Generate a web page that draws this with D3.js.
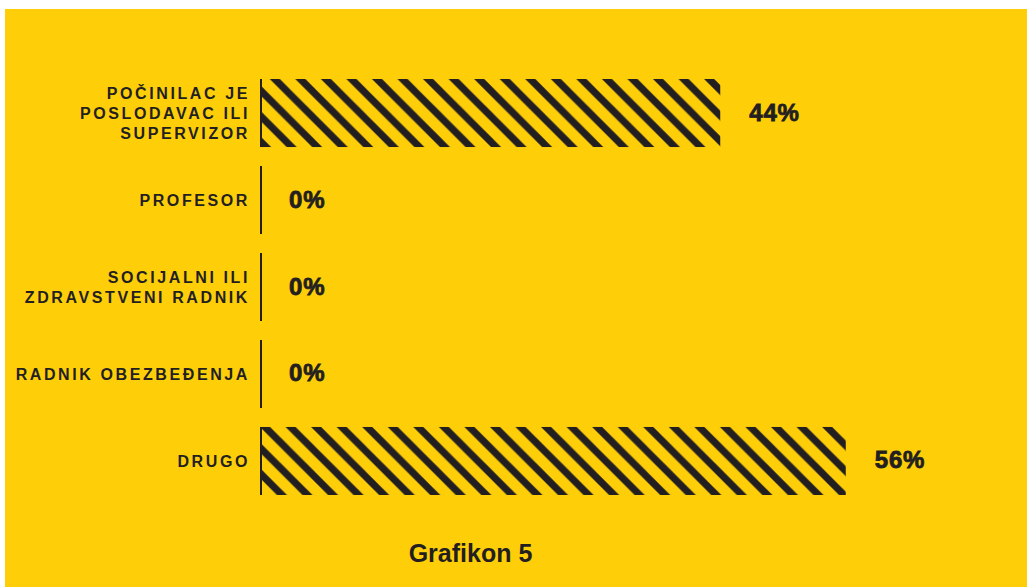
<html>
    <head>
        <meta charset="utf-8">
        <title>Grafikon 5</title>
        <style>
            body { margin: 0; background: #fff; }
            svg text { fill: #231f20; }
        </style>
    </head>

    <body>
        <svg width="1027" height="587"></svg>

        <script src="https://d3js.org/d3.v7.min.js"></script>
        <script>
            // categories (label lines) and share of answers in %
            var categories = [
                ['POČINILAC JE', 'POSLODAVAC ILI', 'SUPERVIZOR'],
                ['PROFESOR'],
                ['SOCIJALNI ILI', 'ZDRAVSTVENI RADNIK'],
                ['RADNIK OBEZBEĐENJA'],
                ['DRUGO']
            ];
            var values = [44, 0, 0, 0, 56];
            var title = 'Grafikon 5';

            var data = categories.map(function(c, i) {
                return { key: c.join(' '), lines: c, value: values[i] };
            });

            var svg = d3.select('svg');
            var ink = '#231f20';

            // yellow panel
            svg.append('rect')
                .attr('x', 5).attr('y', 9)
                .attr('width', 1022).attr('height', 578)
                .style('fill', '#fece09');

            var x = d3.scaleLinear().domain([0, 100]).range([260, 1306]);
            var y = d3.scaleBand()
                .domain(data.map(function(d) { return d.key; }))
                .range([79, 495])
                .paddingInner(0.218)
                .paddingOuter(0);

            // diagonal hatch, anchored on the last bar's top-left corner
            var period = 25.55, ink_w = 10;
            var pat = svg.append('defs').append('pattern')
                .attr('id', 'hatch')
                .attr('patternUnits', 'userSpaceOnUse')
                .attr('x', x(0))
                .attr('y', y(data[data.length - 1].key))
                .attr('width', period)
                .attr('height', period);
            pat.append('rect')
                .attr('width', period).attr('height', period)
                .style('fill', '#fece09');
            pat.append('polygon')
                .attr('points', [[0, 0], [ink_w, 0], [period, period - ink_w], [period, period]].join(' '))
                .style('fill', ink);
            pat.append('polygon')
                .attr('points', [[0, period - ink_w], [ink_w, period], [0, period]].join(' '))
                .style('fill', ink);

            var row = svg.selectAll('g.row').data(data).enter()
                .append('g').attr('class', 'row');

            row.append('rect')
                .attr('x', x(0))
                .attr('y', function(d) { return y(d.key); })
                .attr('width', function(d) { return x(d.value) - x(0); })
                .attr('height', y.bandwidth())
                .style('fill', 'url(#hatch)');

            // zero line
            row.append('line')
                .attr('x1', x(0) + 1).attr('x2', x(0) + 1)
                .attr('y1', function(d) { return y(d.key); })
                .attr('y2', function(d) { return y(d.key) + y.bandwidth(); })
                .style('stroke', ink)
                .style('stroke-width', 2);

            // category labels
            row.append('text')
                .attr('text-anchor', 'end')
                .style('font-family', '"Liberation Sans", Arial, sans-serif')
                .style('font-weight', 'bold')
                .style('font-size', '16px')
                .style('letter-spacing', '2.6px')
                .each(function(d) {
                    var t = d3.select(this);
                    var cy = y(d.key) + y.bandwidth() / 2;
                    var n = d.lines.length;
                    d.lines.forEach(function(l, i) {
                        t.append('tspan')
                            .attr('x', x(0) - 10)
                            .attr('y', cy + 6 + (i - (n - 1) / 2) * 20.2)
                            .text(l);
                    });
                });

            // value labels
            row.append('text')
                .attr('x', function(d) { return x(d.value) + 29; })
                .attr('y', function(d) { return y(d.key) + y.bandwidth() / 2 + 7.5; })
                .style('font-family', '"Liberation Sans", Arial, sans-serif')
                .style('font-weight', 'bold')
                .style('font-size', '24px')
                .style('letter-spacing', '0.8px')
                .style('stroke', ink)
                .style('stroke-width', 0.8)
                .text(function(d) { return d.value + '%'; });

            svg.append('text')
                .attr('x', 470.5)
                .attr('y', 562)
                .attr('text-anchor', 'middle')
                .style('font-family', '"Liberation Sans", Arial, sans-serif')
                .style('font-weight', 'bold')
                .style('font-size', '25px')
                .text(title);
        </script>
    </body>
</html>
